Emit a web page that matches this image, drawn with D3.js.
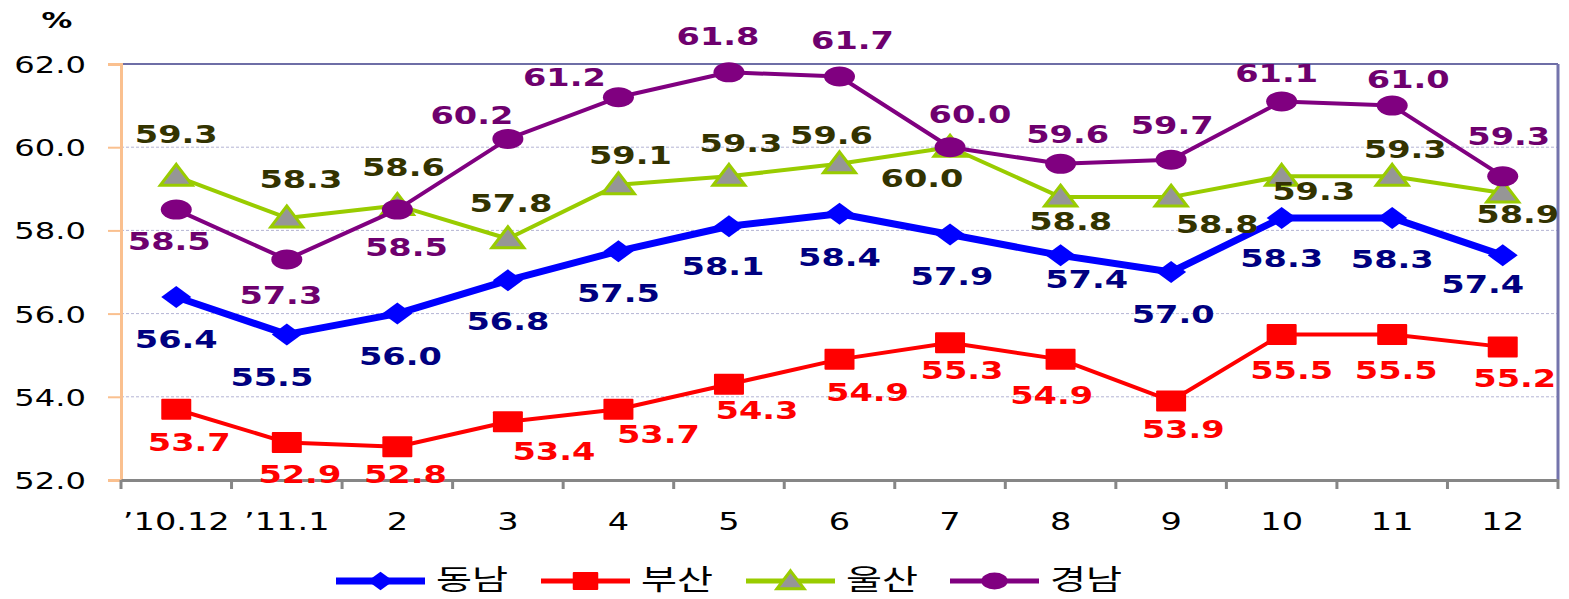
<!DOCTYPE html>
<html><head><meta charset="utf-8">
<script src="https://cdn.jsdelivr.net/npm/d3@7"></script>
<style>
html,body{margin:0;padding:0;background:#fff;}
svg{display:block;}
</style></head>
<body>
<svg id="chart" width="1569" height="599"></svg>
<script>
// ---- data ----
const categories = ["\u201910.12","\u201911.1","2","3","4","5","6","7","8","9","10","11","12"];
const seriesNames = ["동남","부산","울산","경남"];
const dongnam = [56.4,55.5,56.0,56.8,57.5,58.1,58.4,57.9,57.4,57.0,58.3,58.3,57.4];
const busan   = [53.7,52.9,52.8,53.4,53.7,54.3,54.9,55.3,54.9,53.9,55.5,55.5,55.2];
const ulsan   = [59.3,58.3,58.6,57.8,59.1,59.3,59.6,60.0,58.8,58.8,59.3,59.3,58.9];
const gyeongnam = [58.5,57.3,58.5,60.2,61.2,61.8,61.7,60.0,59.6,59.7,61.1,61.0,59.3];
const yTicks = [52,54,56,58,60,62];
const yUnit = "%";

// ---- label placement (dx, dy to baseline) ----
const offDongnam = [[0,51],[-15,52],[3,51],[0,50],[0,51],[-6,49],[0,52],[2,50],[26,33],[2,51],[0,49],[0,50],[-20,38]];
const offBusan = [[13,42],[13,40],[8,36],[46,38],[40,34],[28,35],[28,42],[12,36],[-9,45],[12,37],[10,45],[4,45],[12,40]];
const offUlsan = [[0,-33],[14,-30],[6,-29],[3,-27],[12,-21],[12,-24],[-8,-20],[-28,40],[10,33],[46,36],[32,24],[13,-18],[15,30]];
const offGyeongnam = [[-7,40],[-6,44],[9,46],[-36,-15],[-54,-11],[-11,-27],[13,-27],[20,-24],[7,-21],[1,-26],[-5,-19],[16,-18],[6,-31]];

const SX = 1.4; // horizontal text stretch as in reference
const svg = d3.select("#chart");
const L = 121, R = 1558, T = 64, B = 480;

const x = d3.scaleBand().domain(categories).range([L, R]).padding(0);
const y = d3.scaleLinear().domain([52, 62]).range([B, T]);
const cx = c => x(c) + x.bandwidth()/2;

// gridlines
svg.append("g").selectAll("line").data(yTicks.filter(t => t > 52 && t < 62)).join("line")
  .attr("x1", L).attr("x2", R).attr("y1", d => y(d)).attr("y2", d => y(d))
  .attr("stroke", "#B4B4D4").attr("stroke-width", 1).attr("stroke-dasharray", "3,2");

// top border and right border
svg.append("line").attr("x1", L).attr("x2", R).attr("y1", T).attr("y2", T)
  .attr("stroke", "#6E6EA6").attr("stroke-width", 2);
svg.append("line").attr("x1", R).attr("x2", R).attr("y1", T).attr("y2", B)
  .attr("stroke", "#7474AC").attr("stroke-width", 3);

// y axis (orange)
const yAxis = svg.append("g").attr("transform", `translate(${L},0)`)
  .call(d3.axisLeft(y).tickValues(yTicks).tickSize(13).tickFormat(d3.format(".1f")));
yAxis.select(".domain").attr("stroke", "#FAC08F").attr("stroke-width", 3);
yAxis.selectAll(".tick line").attr("stroke", "#FAC08F").attr("stroke-width", 2);
yAxis.selectAll(".tick text").each(function(){
  d3.select(this).attr("x", null).attr("dy", null)
   .attr("transform", `translate(-35,8.5) scale(${SX},1)`)
   .attr("text-anchor", "end")
   .attr("fill", "#000")
   .attr("font-family", "DejaVu Sans").attr("font-size", 23);
});

// x axis (gray)
const xAxis = svg.append("g").attr("transform", `translate(0,${B})`)
  .call(d3.axisBottom(x).tickSize(0).tickFormat(d => d));
xAxis.select(".domain").attr("stroke", "#868686").attr("stroke-width", 3);
xAxis.selectAll(".tick text").each(function(){
  d3.select(this).attr("y", null).attr("dy", null)
   .attr("transform", `translate(0,50) scale(${SX},1)`)
   .attr("text-anchor", "middle").attr("fill", "#000")
   .attr("font-family", "DejaVu Sans").attr("font-size", 24);
});
// boundary ticks
const bounds = categories.map(c => x(c)).concat([R]);
svg.append("g").selectAll("line").data(bounds).join("line")
  .attr("x1", d => d).attr("x2", d => d).attr("y1", B).attr("y2", B + 9)
  .attr("stroke", "#868686").attr("stroke-width", 3);

// % unit
svg.append("text").attr("transform", `translate(57,28) scale(${SX},1)`)
  .attr("text-anchor", "middle").attr("font-family", "DejaVu Sans").attr("font-weight", "bold")
  .attr("font-size", 22).attr("fill", "#000").text(yUnit);

// ---- series ----
const diamond = (s) => `M0,${-11*s}L${15*s},0L0,${11*s}L${-15*s},0Z`;
const triangle = (s) => `M0,${-12*s}L${16*s},${9*s}L${-16*s},${9*s}Z`;

const series = [
  {name: seriesNames[0], values: dongnam, color: "#0000FF", width: 7, label: "#000080", off: offDongnam, marker: "diamond"},
  {name: seriesNames[1], values: busan, color: "#FF0000", width: 4, label: "#FF0000", off: offBusan, marker: "square"},
  {name: seriesNames[2], values: ulsan, color: "#99CC00", width: 4, label: "#333300", off: offUlsan, marker: "triangle"},
  {name: seriesNames[3], values: gyeongnam, color: "#800080", width: 4, label: "#6E006E", off: offGyeongnam, marker: "circle"}
];

function drawMarker(g, kind, color, s) {
  if (kind === "diamond") g.append("path").attr("d", diamond(s)).attr("fill", color);
  else if (kind === "square") g.append("rect").attr("x", -15*s).attr("y", -10.5*s).attr("width", 30*s).attr("height", 21*s).attr("fill", color).attr("rx", 1);
  else if (kind === "triangle") g.append("path").attr("d", triangle(s)).attr("fill", "#969696").attr("stroke", color).attr("stroke-width", 3).attr("stroke-linejoin", "miter");
  else g.append("ellipse").attr("rx", 15.5*s).attr("ry", 10*s).attr("fill", color);
}

const line = d3.line().x((d, i) => cx(categories[i])).y(d => y(d));
series.forEach(s => {
  svg.append("path").datum(s.values).attr("d", line).attr("fill", "none")
    .attr("stroke", s.color).attr("stroke-width", s.width).attr("stroke-linejoin", "round");
  s.values.forEach((v, i) => {
    const g = svg.append("g").attr("transform", `translate(${cx(categories[i])},${y(v)})`);
    drawMarker(g, s.marker, s.color, 1);
  });
});

// labels on top
series.forEach(s => {
  svg.append("g").selectAll("text").data(s.values).join("text")
    .attr("transform", (v, i) => `translate(${cx(categories[i]) + s.off[i][0]},${y(v) + s.off[i][1]}) scale(${SX},1)`)
    .attr("text-anchor", "middle").attr("font-family", "DejaVu Sans").attr("font-weight", "bold")
    .attr("font-size", 24).attr("fill", s.label).text(v => v.toFixed(1));
});

// legend
const legendX = [336, 541, 746, 950];
const leg = svg.append("g");
series.forEach((s, i) => {
  const g = leg.append("g").attr("transform", `translate(${legendX[i]},581)`);
  g.append("line").attr("x1", 0).attr("x2", 89).attr("y1", 0).attr("y2", 0)
    .attr("stroke", s.color).attr("stroke-width", i === 0 ? 7 : 5);
  const m = g.append("g").attr("transform", "translate(44.5,0)");
  drawMarker(m, s.marker, s.color, 0.85);
  g.append("text").attr("transform", `translate(100,9) scale(${SX},1)`).attr("font-family", "Noto Sans CJK KR")
    .attr("font-size", 28).attr("fill", "#000").text(s.name);
});
</script>
</body></html>
